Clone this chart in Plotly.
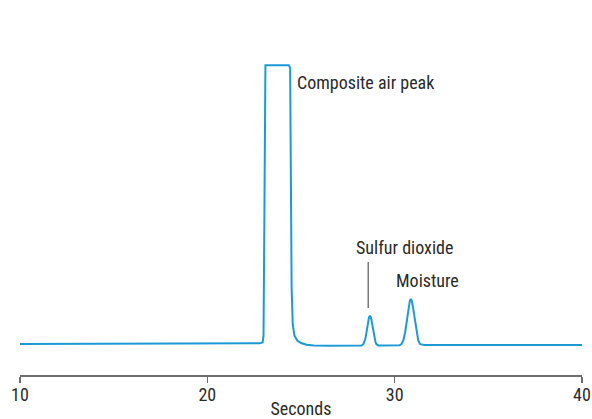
import plotly.graph_objects as go

# Chromatogram trace (time in seconds, detector signal in arbitrary units)
time_s = [10.0, 12.0, 15.0, 18.0, 20.0, 22.0, 22.8, 22.95, 23.0, 23.05, 23.1,
          24.35, 24.42, 24.46, 24.5, 24.56, 24.65, 24.8, 25.0, 25.3, 25.7, 26.5,
          27.5, 28.1, 28.23, 28.33, 28.38, 28.43, 28.48, 28.53, 28.58, 28.63,
          28.68, 28.73, 28.78, 28.83, 28.88, 28.93, 28.98, 29.03, 29.13, 29.3,
          29.6, 29.9, 30.1, 30.26, 30.36, 30.46, 30.56, 30.61, 30.66, 30.71,
          30.76, 30.81, 30.86, 30.91, 30.96, 31.01, 31.06, 31.11, 31.16, 31.26,
          31.36, 31.46, 31.6, 31.8, 32.2, 33.0, 35.0, 37.0, 40.0]
signal = [0.0, 0.0, 0.05, 0.05, 0.1, 0.15, 0.2, 0.5, 3.0, 50.0, 100.0,
          100.0, 99.0, 60.0, 20.0, 7.0, 3.0, 1.2, 0.3, -0.3, -0.6, -0.7,
          -0.7, -0.65, -0.6, -0.1, 0.57, 1.74, 3.5, 5.6, 7.8, 9.5,
          10.1, 9.5, 7.8, 5.6, 3.5, 1.74, 0.57, -0.1, -0.55, -0.6,
          -0.6, -0.6, -0.55, -0.48, -0.08, 1.2, 4.2, 6.4, 9.0, 11.6,
          13.9, 15.5, 16.1, 15.5, 13.9, 11.6, 9.0, 6.4, 4.2, 1.2,
          -0.08, -0.3, -0.35, -0.4, -0.4, -0.35, -0.35, -0.35, -0.35]

tick_vals = [10, 20, 30, 40]
tick_text = ["10", "20", "30", "40"]
x_title = "Seconds"

peak_labels = ["Composite air peak", "Sulfur dioxide", "Moisture"]
label_x = [24.68, 30.55, 31.75]
label_y = [93.9, 34.6, 22.7]

so2_leader_x = 28.59
so2_leader_y = [12.9, 29.4]

FONT = "Liberation Sans Narrow, Roboto Condensed, Arial Narrow, DejaVu Sans Condensed, sans-serif"
BLUE = "#1d9ad6"
TEXT = "#2b2b2b"

fig = go.Figure()
fig.add_trace(go.Scatter(
    x=time_s, y=signal, mode="lines",
    line=dict(color=BLUE, width=2, shape="linear"),
    hoverinfo="skip", showlegend=False,
))

for i in range(3):
    fig.add_annotation(x=label_x[i], y=label_y[i], text=peak_labels[i],
                       xanchor="left" if i == 0 else "center",
                       yanchor="middle", showarrow=False,
                       font=dict(family=FONT, size=18, color=TEXT))

fig.add_shape(type="line", xref="x", yref="y",
              x0=so2_leader_x, x1=so2_leader_x, y0=so2_leader_y[0], y1=so2_leader_y[1],
              line=dict(color="#7a7a7a", width=1.5))

fig.update_layout(
    width=592, height=419,
    margin=dict(l=20, r=10, t=20, b=44, autoexpand=False),
    paper_bgcolor="white", plot_bgcolor="white",
    font=dict(family=FONT, color=TEXT),
    xaxis=dict(
        range=[10, 40], tickvals=tick_vals, ticktext=tick_text,
        automargin=False,
        showgrid=False, zeroline=False,
        showline=True, linecolor="#6e6e6e", linewidth=1.5,
        ticks="outside", ticklen=6, tickwidth=1.5, tickcolor="#6e6e6e",
        ticklabelstandoff=-3,
        tickfont=dict(family=FONT, size=18, color=TEXT),
        title=dict(text=x_title, font=dict(family=FONT, size=18, color=TEXT), standoff=9),
    ),
    yaxis=dict(range=[-11.15, 116.2], visible=False, showgrid=False, zeroline=False),
)

fig.write_html("out.html", config={"displayModeBar": False, "staticPlot": True},
               post_script="document.body.style.margin='0px';document.body.style.overflow='hidden';")
